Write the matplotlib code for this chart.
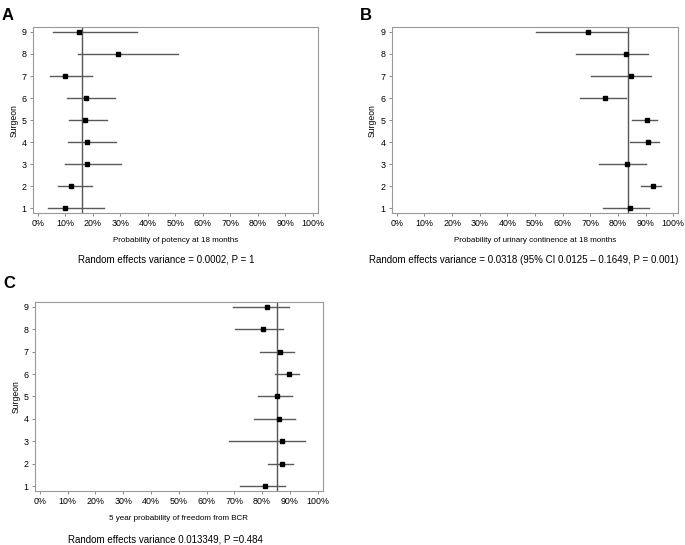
import matplotlib
matplotlib.use("Agg")
import matplotlib.pyplot as plt
from matplotlib.ticker import PercentFormatter

plt.rcParams['font.family'] = ['Liberation Sans', 'DejaVu Sans']

surgeons = [1, 2, 3, 4, 5, 6, 7, 8, 9]

# panel A: potency at 18 months (surgeon 1..9)
pot_est = [0.098, 0.122, 0.177, 0.179, 0.170, 0.175, 0.097, 0.293, 0.150]
pot_lo = [0.037, 0.075, 0.097, 0.109, 0.112, 0.105, 0.045, 0.145, 0.054]
pot_hi = [0.241, 0.196, 0.304, 0.284, 0.250, 0.280, 0.197, 0.508, 0.359]
pot_overall = 0.161

# panel B: urinary continence at 18 months
con_est = [0.845, 0.927, 0.832, 0.908, 0.904, 0.754, 0.849, 0.828, 0.692]
con_lo = [0.747, 0.882, 0.731, 0.845, 0.852, 0.662, 0.701, 0.650, 0.502]
con_hi = [0.912, 0.957, 0.903, 0.948, 0.942, 0.830, 0.921, 0.909, 0.837]
con_overall = 0.837

# panel C: 5 year freedom from BCR
bcr_est = [0.811, 0.873, 0.870, 0.860, 0.855, 0.897, 0.866, 0.803, 0.817]
bcr_lo = [0.719, 0.822, 0.682, 0.771, 0.785, 0.848, 0.791, 0.704, 0.695]
bcr_hi = [0.882, 0.913, 0.955, 0.918, 0.907, 0.933, 0.915, 0.876, 0.896]
bcr_overall = 0.853

xticks = [i / 10 for i in range(11)]

fig = plt.figure(figsize=(6.85, 5.45), dpi=100)


def forest(rect, est, lo, hi, overall, xlabel):
    ax = fig.add_axes(rect)
    for y, e, l, h in zip(surgeons, est, lo, hi):
        ax.plot([l, h], [y, y], color='#5a5a5a', lw=1.0, zorder=2)
    ax.axvline(overall, color='#555555', lw=1.0, zorder=1)
    ax.plot(est, surgeons, 's', color='black', ms=3.3, zorder=3)
    ax.set_xlim(-0.018, 1.018)
    ax.set_ylim(0.79, 9.21)
    ax.set_xticks(xticks)
    ax.xaxis.set_major_formatter(PercentFormatter(1.0, decimals=0))
    ax.set_yticks(surgeons)
    ax.tick_params(labelsize=6.4, length=2.5, width=0.6, color='#777777', pad=2)
    for s in ax.spines.values():
        s.set_color('#999999')
        s.set_linewidth(0.8)
    ax.set_xlabel(xlabel, fontsize=5.8, labelpad=6)
    ax.set_ylabel('Surgeon', fontsize=6.2, labelpad=2.5)
    return ax


forest([0.048, 0.609, 0.416, 0.341], pot_est, pot_lo, pot_hi, pot_overall,
       'Probability of potency at 18 months')
forest([0.572, 0.609, 0.418, 0.341], con_est, con_lo, con_hi, con_overall,
       'Probability of urinary continence at 18 months')
forest([0.051, 0.099, 0.420, 0.347], bcr_est, bcr_lo, bcr_hi, bcr_overall,
       '5 year probability of freedom from BCR')

# captions under each panel
fig.text(166 / 685, 1 - 260 / 545, 'Random effects variance = 0.0002, P = 1',
         ha='center', va='center', fontsize=7)
fig.text(524 / 685, 1 - 260 / 545,
         'Random effects variance = 0.0318 (95% CI 0.0125 \u2013 0.1649, P = 0.001)',
         ha='center', va='center', fontsize=7)
fig.text(165 / 685, 1 - 540 / 545, 'Random effects variance 0.013349, P =0.484',
         ha='center', va='center', fontsize=7)

# panel letters
fig.text(8 / 685, 1 - 15 / 545, 'A', ha='center', va='center', fontsize=12, fontweight='bold')
fig.text(366 / 685, 1 - 15 / 545, 'B', ha='center', va='center', fontsize=12, fontweight='bold')
fig.text(9 / 685, 1 - 284 / 545, 'C', ha='center', va='center', fontsize=12, fontweight='bold')

fig.savefig('out.png', dpi=100)
